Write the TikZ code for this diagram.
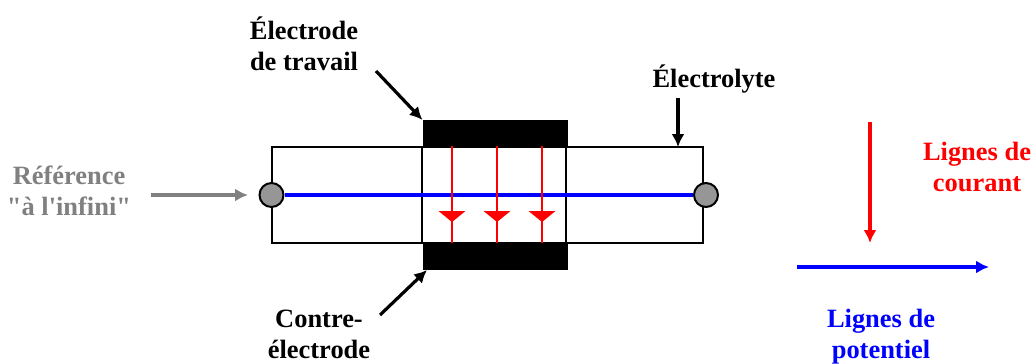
\documentclass[tikz,border=0pt]{standalone}
\usepackage{fontspec}
\setmainfont{Liberation Serif}
\newfontfamily\plainserif{Liberation Serif}
\usetikzlibrary{positioning,arrows.meta,calc}
\definecolor{cRef}{RGB}{128,128,128}
\definecolor{cDisc}{RGB}{150,150,150}
\definecolor{cCur}{RGB}{255,0,0}
\definecolor{cPot}{RGB}{0,0,255}
\begin{document}
\begin{tikzpicture}[x=0.25mm,y=-0.25mm,
   lbl/.style={font=\fontsize{18.8}{22}\selectfont\bfseries,align=center,inner sep=0pt},
   plate/.style={fill=black,minimum width=36.25mm,minimum height=6.75mm,inner sep=0pt},
   disc/.style={circle,draw=black,line width=0.5mm,fill=cDisc,minimum size=6mm,inner sep=0pt},
   ptr/.style={-{Latex[length=3.2mm,width=3.2mm]},line width=0.8mm}]
 \useasboundingbox (0,0) rectangle (1032,363);
 % electrolyte bar and its two walls
 \node[draw=black,line width=0.5mm,minimum width=107.75mm,minimum height=24mm,inner sep=0pt] (cell) at (487.25,195) {};
 \draw[line width=0.5mm] (422,147) -- (422,243);
 \draw[line width=0.5mm] (566,147) -- (566,243);
 % electrodes
 \node[plate] (etop) at (495.2,133.7) {};
 \node[plate] (ebot) at (495.2,256.5) {};
 % potential line
 \node[disc] (dL) at (271.5,195) {};
 \node[disc] (dR) at (706,195) {};
 \draw[cPot,line width=1mm] (dL) -- (dR);
 % current lines
 \foreach \x/\n in {452/a,497/b,542/c} {
   \coordinate (t\n) at (\x,146);
   \coordinate (b\n) at (\x,243);
   \draw[cCur,line width=0.65mm] (t\n) -- (b\n);
   \fill[cCur] (\x-13.5,211) -- (\x+13.5,211) -- (\x,222) -- cycle;
 }
 % labels
 \node[lbl] (ltrav) at (304,44) {Électrode\\de travail};
 \node[lbl] (llyte) at (714,79) {Électrolyte};
 \node[lbl,text=cRef] (lref) at (69,191) {Référence\\{\plainserif "à l'infini"}};
 \node[lbl] (lcontre) at (319,334) {Contre-\\électrode};
 \node[lbl,text=cCur] (lcur) at (977,167) {Lignes de\\courant};
 \node[lbl,text=cPot] (lpot) at (881,337) {Lignes de\\potentiel};
 % pointers
 \coordinate (p1) at (376,71);
 \coordinate (p2) at (678,98);
 \coordinate (p2e) at (678,147);
 \coordinate (p3) at (380,315);
 \coordinate (p3e) at (427,270);
 \coordinate (p4) at (151,195);
 \coordinate (p4e) at (248,195);
 \draw[ptr] (p1) -- (etop.north west);
 \draw[ptr] (p2) -- (p2e);
 \draw[ptr] (p3) -- (p3e);
 \draw[ptr,cRef] (p4) -- (p4e);
 % legend
 \coordinate (k1) at (870,122);
 \coordinate (k1e) at (870,243);
 \coordinate (k2) at (797,267);
 \coordinate (k2e) at (989,267);
 \draw[ptr,cCur] (k1) -- (k1e);
 \draw[ptr,cPot] (k2) -- (k2e);
\end{tikzpicture}
\end{document}
